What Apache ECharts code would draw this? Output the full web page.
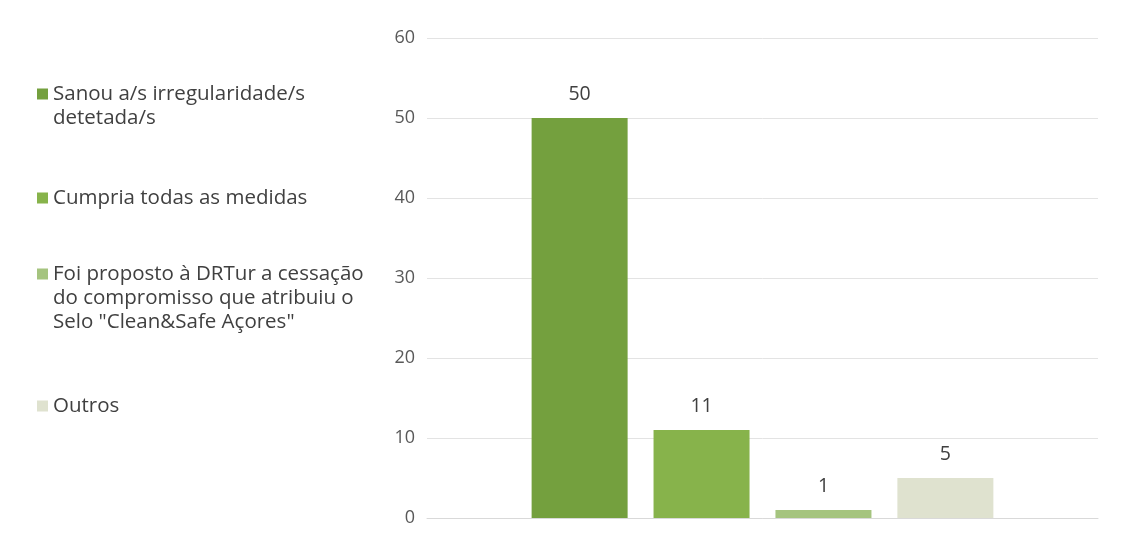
<!DOCTYPE html>
<html>
<head>
<meta charset="utf-8">
<script src="https://cdn.jsdelivr.net/npm/echarts@6/dist/echarts.min.js"></script>
<style>
html,body{margin:0;padding:0;background:#fff;}
#chart{width:1136px;height:541px;}
</style>
</head>
<body>
<div id="chart"></div>
<script>
const seriesNames = [
  'Sanou a/s irregularidade/s\ndetetada/s',
  'Cumpria todas as medidas',
  'Foi proposto à DRTur a cessação\ndo compromisso que atribuiu o\nSelo "Clean&Safe Açores"',
  'Outros'
];
const seriesValues = [50, 11, 1, 5];
const seriesColors = ['#74a03e', '#87b34b', '#a5c47f', '#dfe2cf'];
const categories = [''];
const yTicks = { min: 0, max: 60, interval: 10 };

const FONT = '"Open Sans", Lato, sans-serif';
const textColor = '#404040';
const lineH = 24;
const iconS = 11;
const legendFirstLine = [94, 198, 274, 406];

// icon path: square aligned with the first text line, plus invisible points
// so its bounding box spans the full text block height (1:1 scale)
function iconPath(n) {
  const h = n * lineH;
  const y0 = lineH / 2 - iconS / 2, y1 = lineH / 2 + iconS / 2;
  return 'path://M0,0 L0,0 Z M0,' + y0 + ' L' + iconS + ',' + y0 + ' L' + iconS + ',' + y1 +
         ' L0,' + y1 + ' Z M' + iconS + ',' + h + ' L' + iconS + ',' + h + ' Z';
}

const chart = echarts.init(document.getElementById('chart'));
const legends = seriesNames.map((name, i) => {
  const n = name.split('\n').length;
  return {
    orient: 'vertical',
    left: 37,
    top: legendFirstLine[i] - lineH / 2,
    data: [name],
    itemWidth: iconS,
    itemHeight: n * lineH,
    itemGap: 0,
    padding: 0,
    icon: iconPath(n),
    selectedMode: false,
    textStyle: {
      fontFamily: FONT, fontSize: 20.5, color: textColor,
      lineHeight: lineH
    }
  };
});

chart.setOption({
  animation: false,
  backgroundColor: '#ffffff',
  legend: legends,
  grid: { left: 427, right: 38, top: 38, bottom: 23, containLabel: false },
  xAxis: {
    type: 'category',
    data: categories,
    axisLine: { show: true, lineStyle: { color: '#d9d9d9' } },
    axisTick: { show: false },
    axisLabel: { show: false }
  },
  yAxis: {
    type: 'value',
    min: yTicks.min, max: yTicks.max, interval: yTicks.interval,
    axisLine: { show: false },
    axisTick: { show: false },
    axisLabel: { fontFamily: FONT, fontSize: 18, color: '#595959', margin: 12 },
    splitLine: { lineStyle: { color: '#e3e3e3', width: 1 } }
  },
  series: seriesNames.map((name, i) => ({
    name: name,
    type: 'bar',
    data: [seriesValues[i]],
    barWidth: 96,
    barGap: '27%',
    itemStyle: { color: seriesColors[i] },
    label: {
      show: true, position: 'top', distance: 14,
      fontFamily: FONT, fontSize: 19.5, color: textColor
    }
  }))
});
</script>
</body>
</html>
